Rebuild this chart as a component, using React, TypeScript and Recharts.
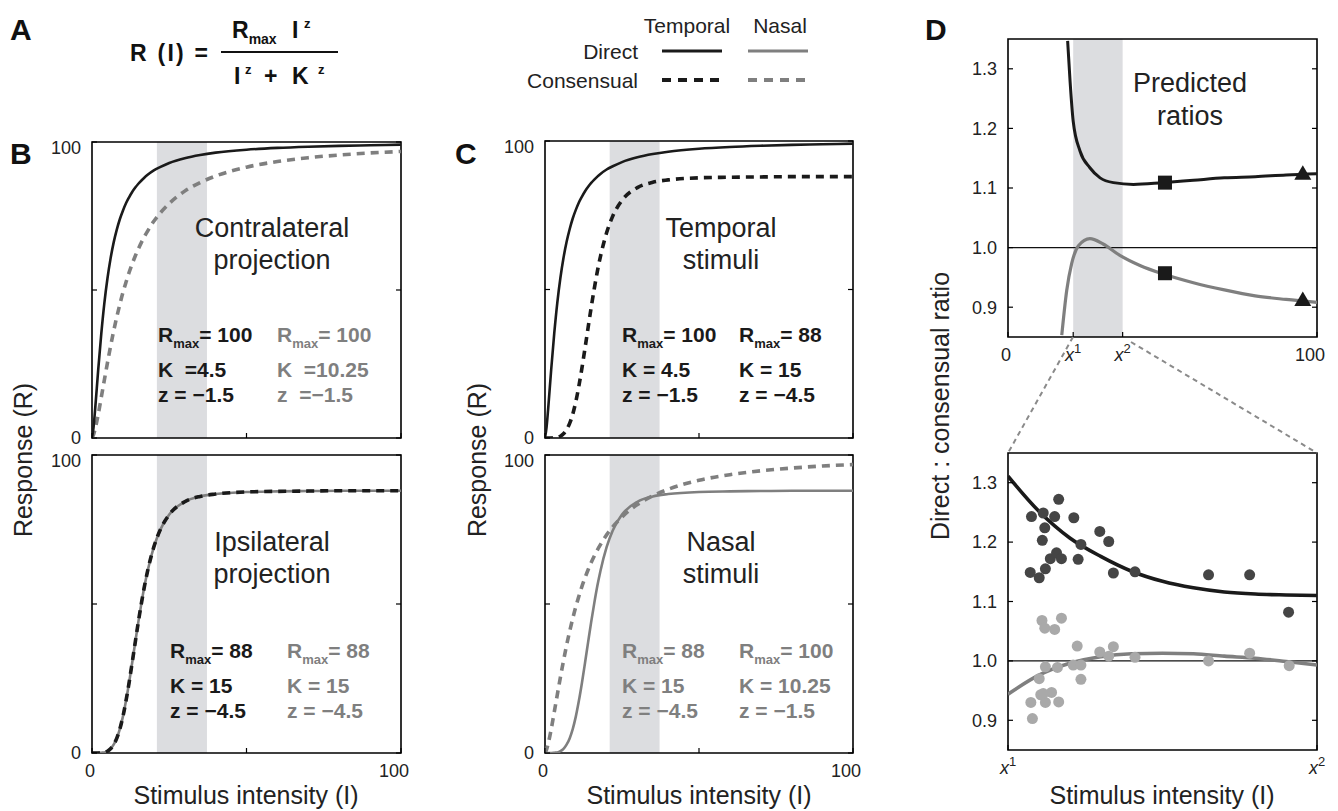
import React from "react";
import {
  ComposedChart,
  Line,
  Scatter,
  XAxis,
  YAxis,
  ReferenceArea,
  ReferenceLine,
} from "recharts";

const FONT = "'Liberation Sans', Arial, Helvetica, sans-serif";
const INK = "#1a1a1a";
const GREY = "#7f7f7f";
const BAND = "#dcdde0";

// ---- panels B and C: response curves R(I) ----
const intensity = [0, 0.5, 1, 2, 3, 4, 5, 6, 7, 8, 9, 10, 11, 12, 13, 14, 15, 16, 17, 18, 20, 22, 25, 30, 35, 40, 50, 60, 70, 80, 90, 100];
// Rmax 100, K 4.5, z -1.5
const respK4p5 = [0, 3.6, 9.5, 22.9, 35.2, 45.6, 53.9, 60.6, 66.0, 70.3, 73.9, 76.8, 79.3, 81.3, 83.1, 84.6, 85.9, 87.0, 88.0, 88.9, 90.4, 91.5, 92.9, 94.5, 95.6, 96.4, 97.4, 98.0, 98.4, 98.7, 98.9, 99.1];
// Rmax 100, K 10.25, z -1.5
const respK10p25 = [0, 1.1, 3.0, 7.9, 13.7, 19.6, 25.4, 30.9, 36.1, 40.8, 45.1, 49.1, 52.6, 55.9, 58.8, 61.5, 63.9, 66.1, 68.1, 69.9, 73.2, 75.9, 79.2, 83.4, 86.3, 88.5, 91.5, 93.4, 94.7, 95.6, 96.3, 96.8];
// Rmax 88, K 15, z -4.5
const respK15 = [0, 0, 0, 0, 0.1, 0.2, 0.6, 1.4, 2.8, 4.9, 8.0, 12.2, 17.5, 23.6, 30.3, 37.2, 44.0, 50.3, 56.1, 61.1, 69.1, 74.7, 80.0, 84.3, 86.1, 86.9, 87.6, 87.8, 87.9, 88.0, 88.0, 88.0];

const bandRange = [21, 37.2];

// ---- panel D top: predicted ratios ----
const ratioTemporalX = [19.3, 20.1, 21.1, 23.3, 26.5, 29.8, 34.1, 40.6, 50, 60, 70, 80, 90, 100];
const ratioTemporalY = [1.347, 1.278, 1.212, 1.162, 1.134, 1.117, 1.109, 1.106, 1.109, 1.113, 1.117, 1.119, 1.122, 1.124];
const ratioNasalX = [17.4, 19.0, 20.6, 22.8, 26.5, 30.8, 36.2, 42.7, 50, 60, 70, 80, 90, 100];
const ratioNasalY = [0.853, 0.928, 0.973, 1.003, 1.015, 1.006, 0.987, 0.970, 0.956, 0.941, 0.929, 0.919, 0.913, 0.908];
const squareX = [50.8, 50.8];
const squareY = [1.109, 0.957];
const triangleX = [95.4, 95.4];
const triangleY = [1.124, 0.912];

// ---- panel D bottom: measured ratios between x1 and x2 (0..100 of that range) ----
const fitX = [0, 10, 20, 30, 40, 50, 60, 70, 80, 90, 100];
const fitTemporal = [1.311, 1.252, 1.207, 1.176, 1.151, 1.134, 1.123, 1.116, 1.1125, 1.111, 1.11];
const fitNasal = [0.944, 0.976, 0.996, 1.007, 1.012, 1.013, 1.012, 1.008, 1.0045, 0.999, 0.993];
const darkX = [7.6, 11.4, 11.9, 15.1, 16.4, 21.3, 11.1, 7.2, 10.1, 12.1, 13.7, 15.7, 17.3, 22.7, 23.6, 29.7, 32.6, 34.1, 41.1, 64.9, 78.2, 90.8];
const darkY = [1.243, 1.249, 1.224, 1.243, 1.272, 1.241, 1.203, 1.149, 1.14, 1.155, 1.172, 1.182, 1.172, 1.171, 1.196, 1.218, 1.201, 1.148, 1.15, 1.145, 1.145, 1.082];
const lightX = [11.0, 11.9, 15.1, 17.3, 22.4, 29.7, 32.6, 34.1, 41.1, 12.1, 16.0, 21.1, 23.6, 23.6, 10.1, 7.4, 7.9, 10.6, 12.1, 14.1, 16.4, 11.4, 64.9, 78.2, 91.0];
const lightY = [1.068, 1.055, 1.053, 1.072, 1.025, 1.015, 1.008, 1.024, 1.006, 0.99, 0.989, 0.993, 0.993, 0.969, 0.97, 0.93, 0.903, 0.943, 0.93, 0.947, 0.931, 0.945, 1.0, 1.013, 0.992];

const responseRows = intensity.map((x, i) => ({ x, k4: respK4p5[i], k10: respK10p25[i], k15: respK15[i] }));
const pts = (xs: number[], ys: number[]) => xs.map((x, i) => ({ x, y: ys[i] }));

const ML = 60;
const MT = 10;
const MR = 10;
const MB = 40;

const tickFont = { fontFamily: FONT, fontSize: 18, fill: "#222" };

const Xsup = ({ n }: { n: string }) => (
  <>
    <tspan fontStyle="italic">x</tspan>
    <tspan fontSize={13} dy={-8}>{n}</tspan>
  </>
);

type PlotProps = {
  left: number;
  top: number;
  w: number;
  h: number;
  xDomain: [number, number];
  yDomain: [number, number];
  xTicks: number[];
  yTicks: number[];
  xLabel: (v: number) => React.ReactNode;
  yLabel: (v: number) => string | null;
  shiftTop?: boolean;
  data?: any[];
  children: React.ReactNode;
};

function Plot(p: PlotProps) {
  const W = p.w + ML + MR;
  const H = p.h + MT + MB;

  const yTick = (props: any) => {
    const { x, y, payload } = props;
    const label = p.yLabel(payload.value);
    const dy = p.shiftTop && payload.value === p.yDomain[1] ? 6 : 0;
    return (
      <g>
        <line x1={x} x2={x + 5} y1={y} y2={y} stroke="#000" strokeWidth={1.2} />
        <line x1={x + p.w} x2={x + p.w - 5} y1={y} y2={y} stroke="#000" strokeWidth={1.2} />
        {label !== null && (
          <text x={x - 11} y={y + dy} dy="0.35em" textAnchor="end" {...tickFont}>
            {label}
          </text>
        )}
      </g>
    );
  };

  const xTick = (props: any) => {
    const { x, y, payload } = props;
    const label = p.xLabel(payload.value);
    const dx = payload.value === p.xDomain[1] && typeof label === "string" ? -7 : typeof label === "string" ? -2 : 0;
    return (
      <g>
        <line x1={x} x2={x} y1={y} y2={y - 5} stroke="#000" strokeWidth={1.2} />
        {label !== null && (
          <text x={x + dx} y={y + 24} textAnchor="middle" {...tickFont}>
            {label}
          </text>
        )}
      </g>
    );
  };

  return (
    <div style={{ position: "absolute", left: p.left - ML, top: p.top - MT }}>
      <ComposedChart width={W} height={H} data={p.data} margin={{ top: MT, right: MR, bottom: 0, left: 0 }}>
        <XAxis
          type="number"
          dataKey="x"
          domain={p.xDomain}
          ticks={p.xTicks}
          interval={0}
          height={MB}
          tickLine={false}
          axisLine={false}
          tickSize={0}
          tickMargin={0}
          tick={xTick}
          allowDataOverflow
        />
        <YAxis
          type="number"
          domain={p.yDomain}
          ticks={p.yTicks}
          interval={0}
          width={ML}
          tickLine={false}
          axisLine={false}
          tickSize={0}
          tickMargin={0}
          tick={yTick}
          allowDataOverflow
        />
        {p.children}
        <ReferenceArea
          x1={p.xDomain[0]}
          x2={p.xDomain[1]}
          y1={p.yDomain[0]}
          y2={p.yDomain[1]}
          fill="none"
          stroke="#000"
          strokeWidth={1.6}
          ifOverflow="visible"
        />
      </ComposedChart>
    </div>
  );
}

const Band = (props: { yMax: number }) => (
  <ReferenceArea x1={bandRange[0]} x2={bandRange[1]} y1={0} y2={props.yMax} fill={BAND} fillOpacity={1} stroke="none" />
);

const solid = (key: string, color: string) => (
  <Line key={key} type="monotone" dataKey={key} stroke={color} strokeWidth={2.6} dot={false} activeDot={false} isAnimationActive={false} />
);
const dashed = (key: string, color: string) => (
  <Line key={key + "d"} type="monotone" dataKey={key} stroke={color} strokeWidth={3.6} strokeDasharray="8 6" dot={false} activeDot={false} isAnimationActive={false} />
);

const pct = (v: number) => (v === 0 || v === 100 ? String(v) : null);
const none = () => null;

const Square = (props: any) => <rect x={props.cx - 7} y={props.cy - 7} width={14} height={14} fill={INK} />;
const Triangle = (props: any) => (
  <polygon points={`${props.cx - 8.5},${props.cy + 6} ${props.cx + 8.5},${props.cy + 6} ${props.cx},${props.cy - 8.5}`} fill={INK} />
);
const darkDot = (props: any) => <circle cx={props.cx} cy={props.cy} r={5.5} fill="#454545" />;
const lightDot = (props: any) => <circle cx={props.cx} cy={props.cy} r={5.5} fill="#a9a9a9" />;

function Params(props: { x: number; y: number; color: string; rmax: string; k: string; z: string }) {
  const { x, y, color } = props;
  return (
    <g fill={color} fontWeight="bold" fontSize={21}>
      <text x={x} y={y} xmlSpace="preserve">
        R<tspan fontSize={13} dy={6}>max</tspan>
        <tspan dy={-6}>{props.rmax}</tspan>
      </text>
      <text x={x} y={y + 35} xmlSpace="preserve">{props.k}</text>
      <text x={x} y={y + 60} xmlSpace="preserve">{props.z}</text>
    </g>
  );
}

function Overlay() {
  const title = { fontSize: 25, fill: "#222", textAnchor: "middle" as const };
  const note = { fontSize: 27, fill: "#222", textAnchor: "middle" as const };
  const letter = { fontSize: 30, fontWeight: "bold" as const, fill: "#111" };
  return (
    <svg
      width={1338}
      height={811}
      style={{ position: "absolute", left: 0, top: 0, pointerEvents: "none", fontFamily: FONT }}
    >
      {/* panel letters */}
      <text x={10} y={40} {...letter}>A</text>
      <text x={10} y={164} {...letter}>B</text>
      <text x={455} y={164} {...letter}>C</text>
      <text x={925} y={40} {...letter}>D</text>

      {/* formula */}
      <g fontWeight="bold" fill="#111" fontSize={23}>
        <text x={130} y={61} textLength={78} lengthAdjust="spacing">R (I) =</text>
        <text x={232} y={38}>
          R<tspan fontSize={14} dy={6}>max</tspan>
        </text>
        <text x={292} y={38}>I</text>
        <text x={304} y={28} fontSize={13}>z</text>
        <line x1={221} x2={338} y1={52} y2={52} stroke="#111" strokeWidth={2.2} />
        <text x={234} y={84}>I</text>
        <text x={245} y={74} fontSize={13}>z</text>
        <text x={264} y={84}>+</text>
        <text x={292} y={84}>K</text>
        <text x={318} y={74} fontSize={13}>z</text>
      </g>

      {/* legend */}
      <g fontSize={21} fill="#222">
        <text x={687} y={33} textAnchor="middle">Temporal</text>
        <text x={780} y={33} textAnchor="middle">Nasal</text>
        <text x={638} y={59} textAnchor="end">Direct</text>
        <text x={638} y={88} textAnchor="end">Consensual</text>
      </g>
      <line x1={662} x2={722} y1={51} y2={51} stroke={INK} strokeWidth={3} />
      <line x1={748} x2={808} y1={51} y2={51} stroke={GREY} strokeWidth={3} />
      <line x1={662} x2={722} y1={80} y2={80} stroke={INK} strokeWidth={4} strokeDasharray="9 7" />
      <line x1={748} x2={808} y1={80} y2={80} stroke={GREY} strokeWidth={4} strokeDasharray="9 7" />

      {/* axis titles */}
      <text x={246} y={804} {...title}>Stimulus intensity (I)</text>
      <text x={699} y={804} {...title}>Stimulus intensity (I)</text>
      <text x={1162} y={804} {...title}>Stimulus intensity (I)</text>
      <text transform="translate(23,460) rotate(-90)" dy="0.35em" {...title}>Response (R)</text>
      <text transform="translate(477,460) rotate(-90)" dy="0.35em" {...title}>Response (R)</text>
      <text transform="translate(940,406) rotate(-90)" dy="0.35em" {...title}>Direct : consensual ratio</text>

      {/* panel notes */}
      <text x={272} y={237} {...note}>Contralateral</text>
      <text x={272} y={269} {...note}>projection</text>
      <text x={272} y={551} {...note}>Ipsilateral</text>
      <text x={272} y={583} {...note}>projection</text>
      <text x={721} y={237} {...note}>Temporal</text>
      <text x={721} y={269} {...note}>stimuli</text>
      <text x={721} y={551} {...note}>Nasal</text>
      <text x={721} y={583} {...note}>stimuli</text>
      <text x={1190} y={92} {...note}>Predicted</text>
      <text x={1190} y={125} {...note}>ratios</text>

      <Params x={158} y={342} color={INK} rmax="= 100" k="K  =4.5" z="z = −1.5" />
      <Params x={277} y={342} color={GREY} rmax="= 100" k="K  =10.25" z="z  =−1.5" />
      <Params x={170} y={658} color={INK} rmax="= 88" k="K = 15" z="z = −4.5" />
      <Params x={287} y={658} color={GREY} rmax="= 88" k="K = 15" z="z = −4.5" />
      <Params x={622} y={342} color={INK} rmax="= 100" k="K = 4.5" z="z = −1.5" />
      <Params x={739} y={342} color={INK} rmax="= 88" k="K = 15" z="z = −4.5" />
      <Params x={622} y={658} color={GREY} rmax="= 88" k="K = 15" z="z = −4.5" />
      <Params x={739} y={658} color={GREY} rmax="= 100" k="K = 10.25" z="z = −1.5" />

      {/* zoom connectors */}
      <line x1={1073} y1={337} x2={1008} y2={453} stroke="#8a8a8a" strokeWidth={2} strokeDasharray="5 4" />
      <line x1={1131} y1={342} x2={1317} y2={453} stroke="#8a8a8a" strokeWidth={2} strokeDasharray="5 4" />
    </svg>
  );
}

export default function App() {
  const ratioTicks = [0.9, 1.0, 1.1, 1.2, 1.3];
  const ratioLabel = (v: number) => v.toFixed(1);
  return (
    <div style={{ position: "absolute", left: 0, top: 0, width: 1338, height: 811, background: "#fff", fontFamily: FONT }}>
      {/* B top */}
      <Plot left={92} top={142} w={309} h={296} xDomain={[0, 100]} yDomain={[0, 100]} xTicks={[0, 50, 100]} yTicks={[0, 50, 100]} xLabel={none} yLabel={pct} shiftTop data={responseRows}>
        <Band yMax={100} />
        {dashed("k10", GREY)}
        {solid("k4", INK)}
      </Plot>
      {/* B bottom */}
      <Plot left={92} top={455} w={309} h={298} xDomain={[0, 100]} yDomain={[0, 100]} xTicks={[0, 50, 100]} yTicks={[0, 50, 100]} xLabel={pct} yLabel={pct} shiftTop data={responseRows}>
        <Band yMax={100} />
        {solid("k15", GREY)}
        {dashed("k15", INK)}
      </Plot>
      {/* C top */}
      <Plot left={545} top={141} w={308} h={297} xDomain={[0, 100]} yDomain={[0, 100]} xTicks={[0, 50, 100]} yTicks={[0, 50, 100]} xLabel={none} yLabel={pct} shiftTop data={responseRows}>
        <Band yMax={100} />
        {dashed("k15", INK)}
        {solid("k4", INK)}
      </Plot>
      {/* C bottom */}
      <Plot left={545} top={455} w={308} h={298} xDomain={[0, 100]} yDomain={[0, 100]} xTicks={[0, 50, 100]} yTicks={[0, 50, 100]} xLabel={pct} yLabel={pct} shiftTop data={responseRows}>
        <Band yMax={100} />
        {dashed("k10", GREY)}
        {solid("k15", GREY)}
      </Plot>
      {/* D top */}
      <Plot
        left={1008}
        top={39}
        w={309}
        h={298}
        xDomain={[0, 100]}
        yDomain={[0.85, 1.35]}
        xTicks={[0, 21.1, 37.1, 100]}
        yTicks={ratioTicks}
        xLabel={(v) => (v === 0 ? "0" : v === 100 ? "100" : v < 30 ? <Xsup n="1" /> : <Xsup n="2" />)}
        yLabel={ratioLabel}
      >
        <ReferenceArea x1={21.1} x2={37.1} y1={0.85} y2={1.35} fill={BAND} fillOpacity={1} stroke="none" />
        <ReferenceLine y={1} stroke="#111" strokeWidth={1.2} />
        <Line data={pts(ratioNasalX, ratioNasalY)} type="monotone" dataKey="y" stroke={GREY} strokeWidth={3.2} dot={false} activeDot={false} isAnimationActive={false} />
        <Line data={pts(ratioTemporalX, ratioTemporalY)} type="monotone" dataKey="y" stroke={INK} strokeWidth={3} dot={false} activeDot={false} isAnimationActive={false} />
        <Scatter data={pts(squareX, squareY)} dataKey="y" shape={Square} isAnimationActive={false} />
        <Scatter data={pts(triangleX, triangleY)} dataKey="y" shape={Triangle} isAnimationActive={false} />
      </Plot>
      {/* D bottom */}
      <Plot
        left={1008}
        top={453}
        w={309}
        h={297}
        xDomain={[0, 100]}
        yDomain={[0.85, 1.35]}
        xTicks={[0, 100]}
        yTicks={ratioTicks}
        xLabel={(v) => (v === 0 ? <Xsup n="1" /> : <Xsup n="2" />)}
        yLabel={ratioLabel}
      >
        <ReferenceLine y={1} stroke="#111" strokeWidth={1.2} />
        <Scatter data={pts(lightX, lightY)} dataKey="y" shape={lightDot} isAnimationActive={false} />
        <Scatter data={pts(darkX, darkY)} dataKey="y" shape={darkDot} isAnimationActive={false} />
        <Line data={pts(fitX, fitNasal)} type="monotone" dataKey="y" stroke={GREY} strokeWidth={3.6} dot={false} activeDot={false} isAnimationActive={false} />
        <Line data={pts(fitX, fitTemporal)} type="monotone" dataKey="y" stroke={INK} strokeWidth={3.6} dot={false} activeDot={false} isAnimationActive={false} />
      </Plot>
      <Overlay />
    </div>
  );
}
